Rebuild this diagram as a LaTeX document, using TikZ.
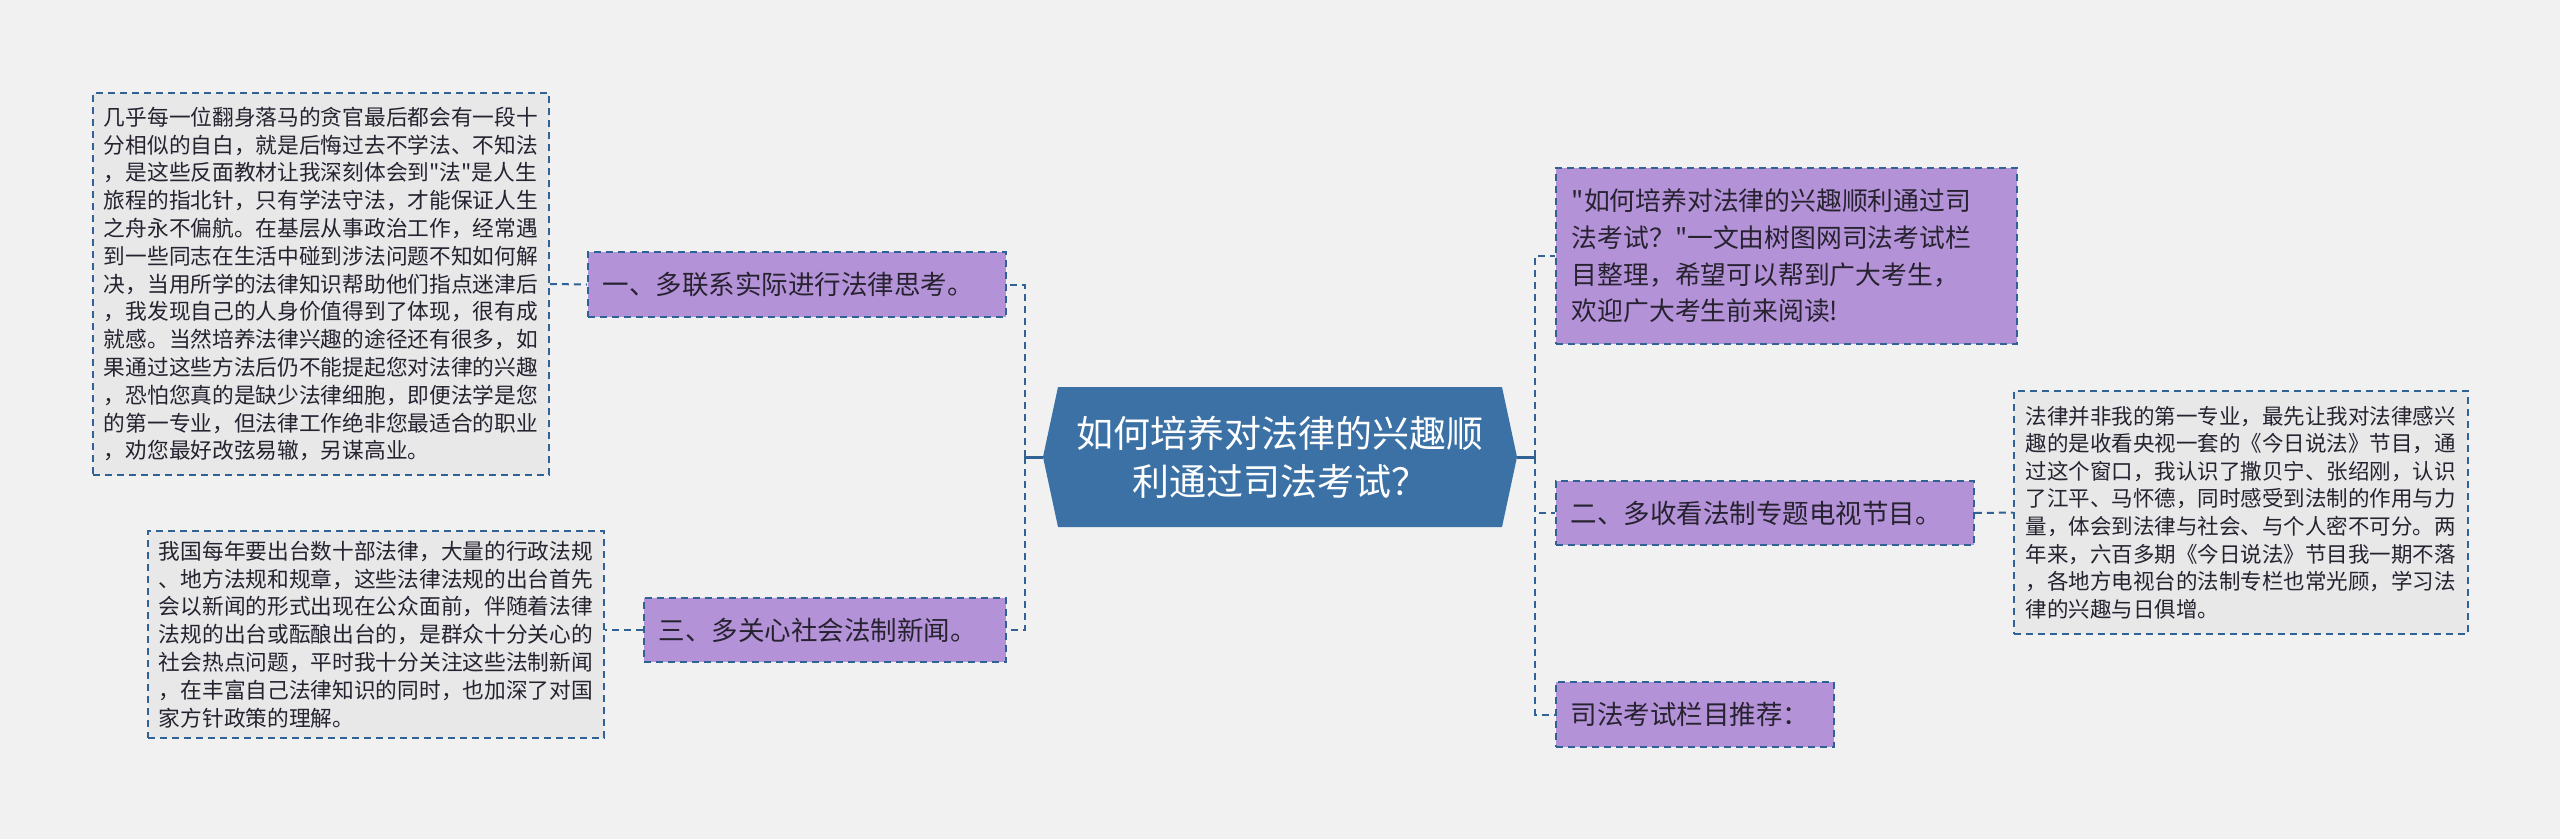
\documentclass[tikz,border=0pt]{standalone}
\usepackage{fontspec}
\newfontfamily\cjk{Noto Sans CJK SC}
\usetikzlibrary{positioning}
\definecolor{bgcol}{RGB}{241,241,241}
\definecolor{hexblue}{RGB}{60,113,165}
\definecolor{linkblue}{RGB}{48,98,150}
\definecolor{lilac}{RGB}{180,146,215}
\definecolor{notegray}{RGB}{232,232,232}
\definecolor{inkdark}{RGB}{38,34,48}
\tikzset{
  link/.style={draw=linkblue,line width=2pt,dash pattern=on 7pt off 5pt},
  stem/.style={draw=linkblue,line width=3pt},
  topic/.style={anchor=west,fill=lilac,draw=linkblue,line width=1.8pt,dash pattern=on 7pt off 5pt,
    text=inkdark,inner xsep=15pt,inner ysep=0pt,align=left,font=\cjk\fontsize{26.5}{36.7}\selectfont},
  note/.style={anchor=west,fill=notegray,draw=linkblue,line width=1.8pt,dash pattern=on 7pt off 5pt,
    text=inkdark,inner xsep=11pt,inner ysep=0pt,align=left,font=\cjk\fontsize{21.7}{27.8}\selectfont},
  rootlabel/.style={text=white,align=center,inner sep=0pt,minimum width=474pt,minimum height=140pt,
    font=\cjk\fontsize{37}{48}\selectfont}
}
\begin{document}
\begin{tikzpicture}[x=1pt,y=-1pt]
\fill[bgcol] (0,0) rectangle (2560,839);
\useasboundingbox (0,0) rectangle (2560,839);

\fill[hexblue] (1043,457)--(1058,387)--(1502,387)--(1517,457)--(1502,527)--(1058,527)--cycle;
\node[rootlabel] (root) at (1280,457) {如何培养对法律的兴趣顺\\利通过司法考试？};

\node[topic,text width=388pt,minimum height=65pt] (t1) at (587,284.5) {一、多联系实际进行法律思考。};
\node[topic,text width=332pt,minimum height=64pt] (t3) at (643,630) {三、多关心社会法制新闻。};
\node[topic,text width=429pt,minimum height=176pt,inner xsep=16pt,font=\cjk\fontsize{25.8}{36.7}\selectfont] (t0) at (1555,256)
  {"如何培养对法律的兴趣顺利通过司\\法考试？"一文由树图网司法考试栏\\目整理，希望可以帮到广大考生，\\欢迎广大考生前来阅读!};
\node[topic,text width=388pt,minimum height=64pt] (t2) at (1555,513) {二、多收看法制专题电视节目。};
\node[topic,text width=248pt,minimum height=65pt] (t4) at (1555,714.5) {司法考试栏目推荐：};

\node[note,text width=434pt,minimum height=382pt] (g1) at (92,284)
  {几乎每一位翻身落马的贪官最后都会有一段十\\分相似的自白，就是后悔过去不学法、不知法\\，是这些反面教材让我深刻体会到"法"是人生\\旅程的指北针，只有学法守法，才能保证人生\\之舟永不偏航。在基层从事政治工作，经常遇\\到一些同志在生活中碰到涉法问题不知如何解\\决，当用所学的法律知识帮助他们指点迷津后\\，我发现自己的人身价值得到了体现，很有成\\就感。当然培养法律兴趣的途径还有很多，如\\果通过这些方法后仍不能提起您对法律的兴趣\\，恐怕您真的是缺少法律细胞，即便法学是您\\的第一专业，但法律工作绝非您最适合的职业\\，劝您最好改弦易辙，另谋高业。};
\node[note,text width=434pt,minimum height=207pt] (g2) at (147,634.5)
  {我国每年要出台数十部法律，大量的行政法规\\、地方法规和规章，这些法律法规的出台首先\\会以新闻的形式出现在公众面前，伴随着法律\\法规的出台或酝酿出台的，是群众十分关心的\\社会热点问题，平时我十分关注这些法制新闻\\，在丰富自己法律知识的同时，也加深了对国\\家方针政策的理解。};
\node[note,text width=430pt,minimum height=243pt,inner xsep=12pt,font=\cjk\fontsize{21.5}{27.6}\selectfont] (g3) at (2013,512.5)
  {法律并非我的第一专业，最先让我对法律感兴\\趣的是收看央视一套的《今日说法》节目，通\\过这个窗口，我认识了撒贝宁、张绍刚，认识\\了江平、马怀德，同时感受到法制的作用与力\\量，体会到法律与社会、与个人密不可分。两\\年来，六百多期《今日说法》节目我一期不落\\，各地方电视台的法制专栏也常光顾，学习法\\律的兴趣与日俱增。};

\coordinate (lhub) at ([xshift=-18pt]root.west);
\coordinate (rhub) at ([xshift=18pt]root.east);
\draw[stem] (root.west) -- (lhub);
\draw[stem] (root.east) -- (rhub);
\draw[link] (lhub) |- (t1.east);
\draw[link] (lhub) |- (t3.east);
\draw[link] (rhub) |- (t0.west);
\draw[link] (rhub) |- (t2.west);
\draw[link] (rhub) |- (t4.west);
\draw[link] (g1.east) -- (t1.west);
\draw[link] (t3.west) -- (t3.west -| g2.east);
\draw[link] (t2.east) -- (g3.west);
\end{tikzpicture}
\end{document}
